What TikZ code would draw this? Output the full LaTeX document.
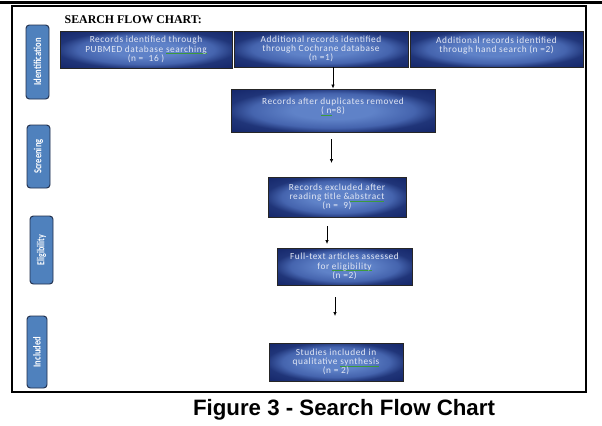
\documentclass[tikz,border=0pt]{standalone}
\usepackage{fontspec}
\setmainfont{Liberation Serif}
\newfontfamily\boxfont[LetterSpace=6]{Carlito}
\newfontfamily\tabfont{Carlito}
\newfontfamily\capfont{Liberation Sans}
\usetikzlibrary{arrows.meta}

\definecolor{boxin}{HTML}{5F82C8}
\definecolor{boxmid}{HTML}{4564AE}
\definecolor{boxedge}{HTML}{203579}
\definecolor{boxout}{HTML}{15276A}
\definecolor{tabfill}{HTML}{4F81BD}
\definecolor{tabline}{HTML}{1F2D4A}
\definecolor{boxtext}{HTML}{E2E7F4}
\definecolor{chkgreen}{HTML}{3C9A3C}

\pgfdeclareradialshading{boxglow}{\pgfpoint{0bp}{0bp}}{color(0bp)=(boxin); color(10bp)=(boxin); color(20bp)=(boxmid); color(26bp)=(boxedge); color(35bp)=(boxout); color(50bp)=(boxout)}

% green check line under a word
\newcommand\chk[1]{\setbox0=\hbox{#1}\rlap{\raisebox{-1.3pt}{\textcolor{chkgreen}{\rule{\wd0}{0.35pt}}}}\box0}

\tikzset{
    flowbox/.style={draw=black!85, line width=0.6pt, shade, shading=boxglow, text=boxtext, align=center,
        font=\boxfont\fontsize{7}{6.9}\selectfont, inner sep=1pt},
    tab/.style={draw=tabline, fill=tabfill, rounded corners=2.5pt, line width=0.7pt, text=white,
        inner sep=0pt, font=\tabfont\bfseries\fontsize{8}{8}\selectfont},
    flow/.style={-{Latex[length=3pt,width=2.6pt]}, line width=0.5pt}
}

\begin{document}
\begin{tikzpicture}[x=0.75pt,y=-0.75pt]
    \useasboundingbox (0,0) rectangle (602,425);
    \draw[line width=1.6pt] (0,2.5) -- (602,2.5);
    \draw[line width=1.6pt] (12,6) rectangle (586,392);

    \node[anchor=base west, font=\bfseries\fontsize{8.9}{9}\selectfont] (title) at (60,23) {SEARCH FLOW CHART:};

    % phase tabs on the left
    \node[tab, minimum width=17.25pt, minimum height=55.5pt] (ident) at (37.5,62) {\rotatebox{90}{\scalebox{0.8}[1]{Identification}}};
    \node[tab, minimum width=17.25pt, minimum height=47.25pt] (screen) at (38.5,156.5) {\rotatebox{90}{\scalebox{0.8}[1]{Screening}}};
    \node[tab, minimum width=17.25pt, minimum height=51pt] (elig) at (41.5,250) {\rotatebox{90}{\scalebox{0.75}[1]{Eligibility}}};
    \node[tab, minimum width=15pt, minimum height=54pt] (incl) at (37,352) {\rotatebox{90}{\scalebox{0.8}[1]{Included}}};

    % record boxes
    \node[flowbox, minimum width=129pt, minimum height=27.75pt] (pubmed) at (146,49.5)
        {Records identified through\\PUBMED database \chk{searching}\\(n = \ 16 )};
    \node[flowbox, minimum width=130.5pt, minimum height=27pt] (cochrane) at (321,49)
        {Additional records identified\\through Cochrane database\\(n =1)};
    \node[flowbox, minimum width=129.75pt, minimum height=27pt] (hand) at (496.5,49)
        {Additional records identified\\through hand search (n =2)\\\mbox{}};
    \node[flowbox, minimum width=153pt, minimum height=32.25pt] (dedup) at (333,110.5)
        {Records after duplicates removed\\\chk{( n}=8)\\\mbox{}};
    \node[flowbox, minimum width=103.5pt, minimum height=30pt] (excl) at (337,197)
        {Records excluded after\\reading title \&\chk{abstract}\\(n = \ 9)};
    \node[flowbox, minimum width=101.25pt, minimum height=27.75pt] (full) at (344.5,266.5)
        {Full-text articles assessed\\for \chk{eligibility}\\(n =2)};
    \node[flowbox, minimum width=100.5pt, minimum height=28.5pt] (study) at (336,362)
        {Studies included in\\qualitative \chk{synthesis}\\(n = 2)};

    \coordinate (a2s) at (331.5,139);
    \coordinate (a2e) at (331.5,163);
    \coordinate (a3s) at (327,226);
    \coordinate (a3e) at (327,244);
    \coordinate (a4s) at (335,297);
    \coordinate (a4e) at (335,316);

    \draw[flow] (dedup.north |- cochrane.south) -- (dedup.north);
    \draw[flow] (a2s) -- (a2e);
    \draw[flow] (a3s) -- (a3e);
    \draw[flow] (a4s) -- (a4e);

    \node[font=\capfont\bfseries\fontsize{16.7}{18}\selectfont] (caption) at (344,410) {Figure 3 - Search Flow Chart};
\end{tikzpicture}
\end{document}
